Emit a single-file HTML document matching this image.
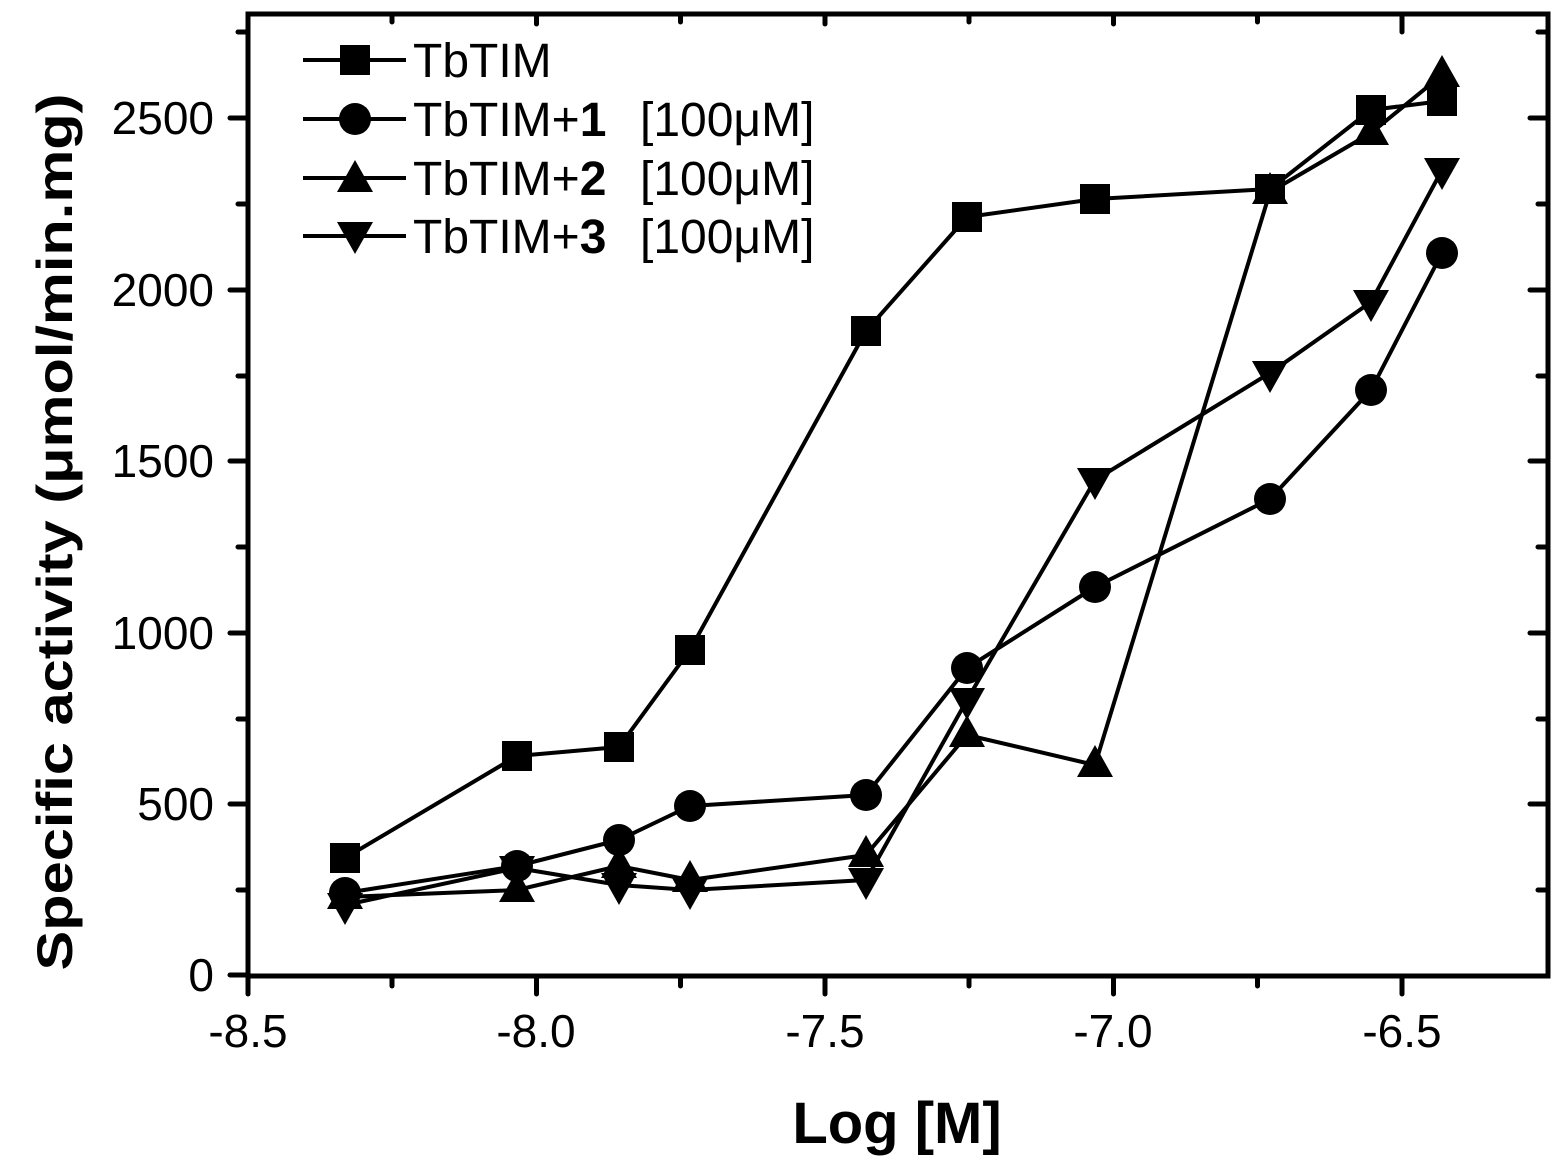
<!DOCTYPE html>
<html><head><meta charset="utf-8"><style>body{margin:0;background:#fff}svg{display:block}</style></head><body>
<svg width="1568" height="1171" viewBox="0 0 1568 1171" xmlns="http://www.w3.org/2000/svg" font-family="Liberation Sans, Arial, sans-serif">
<defs>
<rect id="sq" x="-15" y="-15" width="30" height="30" fill="#000"/>
<circle id="ci" r="16" fill="#000"/>
<polygon id="up" points="0,-20 18,12 -18,12" fill="#000"/>
<polygon id="dn" points="0,20 18,-12 -18,-12" fill="#000"/>
</defs>
<g stroke="#000" stroke-width="5" fill="none" stroke-linecap="round">
<rect x="248" y="14" width="1300" height="962"/>
<path d="M248,976v18M536.5,976v18M825,976v18M1113.5,976v18M1402,976v18M392,976v10M680.5,976v10M969,976v10M1257.5,976v10"/>
<path d="M536.5,14v10M825,14v10M1113.5,14v10M1402,14v18M392,14v8M680.5,14v8M969,14v8M1257.5,14v8"/>
<path d="M248,975h-18M248,804h-18M248,633h-18M248,461h-18M248,290h-18M248,118h-18M248,890h-10M248,719h-10M248,547h-10M248,376h-10M248,204h-10M248,32h-10"/>
<path d="M1548,804h-18M1548,633h-18M1548,461h-18M1548,290h-18M1548,118h-18M1548,890h-10M1548,719h-10M1548,547h-10M1548,376h-10M1548,204h-10M1548,32h-10"/>
</g>
<g font-size="46" text-anchor="middle" fill="#000">
<text x="248" y="1047">-8.5</text><text x="536" y="1047">-8.0</text><text x="825" y="1047">-7.5</text><text x="1113" y="1047">-7.0</text><text x="1402" y="1047">-6.5</text>
</g>
<g font-size="46" text-anchor="end" fill="#000">
<text x="214" y="991">0</text><text x="214" y="820">500</text><text x="214" y="649">1000</text><text x="214" y="477">1500</text><text x="214" y="306">2000</text><text x="214" y="134">2500</text>
</g>
<text x="897" y="1143" font-size="58" font-weight="bold" text-anchor="middle">Log [M]</text>
<text transform="translate(72,532) rotate(-90)" font-size="50" font-weight="bold" text-anchor="middle" textLength="877" lengthAdjust="spacingAndGlyphs">Specific activity (μmol/min.mg)</text>
<g stroke="#000" stroke-width="4" fill="none" stroke-linejoin="round">
<polyline points="345,858 517,756 619,747 690,650 866,331 967,217 1095,199 1270,189 1371,110 1442,101"/>
<polyline points="345,893 517,866 619,840 690,806 866,795 967,668 1095,587 1270,499 1371,390 1442,253"/>
<polyline points="345,897 517,890 619,866 690,880 866,855 967,735 1095,765 1270,192 1371,133 1442,75"/>
<polyline points="345,905 517,868 619,885 690,890 866,880 967,700 1095,480 1270,373 1371,302 1442,170"/>
</g>
<g>
<use href="#sq" x="345" y="858"/><use href="#sq" x="517" y="756"/><use href="#sq" x="619" y="747"/><use href="#sq" x="690" y="650"/><use href="#sq" x="866" y="331"/><use href="#sq" x="967" y="217"/><use href="#sq" x="1095" y="199"/><use href="#sq" x="1270" y="189"/><use href="#sq" x="1371" y="110"/><use href="#sq" x="1442" y="101"/>
<use href="#ci" x="345" y="893"/><use href="#ci" x="517" y="866"/><use href="#ci" x="619" y="840"/><use href="#ci" x="690" y="806"/><use href="#ci" x="866" y="795"/><use href="#ci" x="967" y="668"/><use href="#ci" x="1095" y="587"/><use href="#ci" x="1270" y="499"/><use href="#ci" x="1371" y="390"/><use href="#ci" x="1442" y="253"/>
<use href="#up" x="345" y="897"/><use href="#up" x="517" y="890"/><use href="#up" x="619" y="866"/><use href="#up" x="690" y="880"/><use href="#up" x="866" y="855"/><use href="#up" x="967" y="735"/><use href="#up" x="1095" y="765"/><use href="#up" x="1270" y="192"/><use href="#up" x="1371" y="133"/><use href="#up" x="1442" y="75"/>
<use href="#dn" x="345" y="905"/><use href="#dn" x="517" y="868"/><use href="#dn" x="619" y="885"/><use href="#dn" x="690" y="890"/><use href="#dn" x="866" y="880"/><use href="#dn" x="967" y="700"/><use href="#dn" x="1095" y="480"/><use href="#dn" x="1270" y="373"/><use href="#dn" x="1371" y="302"/><use href="#dn" x="1442" y="170"/>
</g>
<g stroke="#000" stroke-width="4">
<path d="M303,60h103M303,119h103M303,178h103M303,236h103"/>
</g>
<use href="#sq" x="355" y="60"/><use href="#ci" x="355" y="119"/><use href="#up" x="355" y="180"/><use href="#dn" x="355" y="234"/>
<g font-size="48" fill="#000">
<text x="413" y="77">TbTIM</text>
<text x="413" y="136">TbTIM+<tspan font-weight="bold">1</tspan><tspan x="640">[100μM]</tspan></text>
<text x="413" y="195">TbTIM+<tspan font-weight="bold">2</tspan><tspan x="640">[100μM]</tspan></text>
<text x="413" y="253">TbTIM+<tspan font-weight="bold">3</tspan><tspan x="640">[100μM]</tspan></text>
</g>
</svg>
</body></html>
